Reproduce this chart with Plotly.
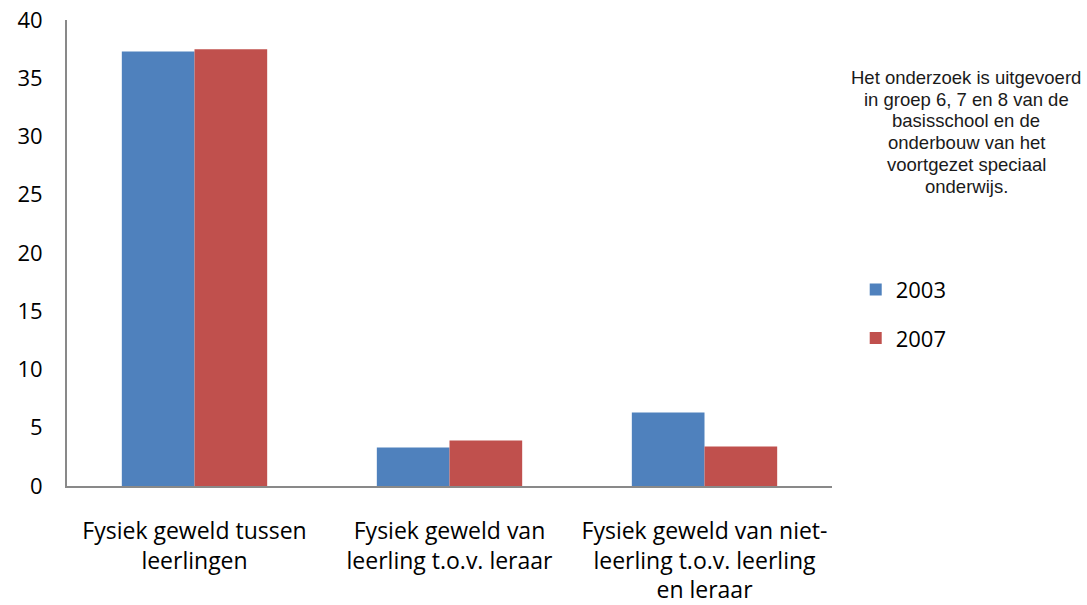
import plotly.graph_objects as go

categories = [
    "Fysiek geweld tussen<br>leerlingen",
    "Fysiek geweld van<br>leerling t.o.v. leraar",
    "Fysiek geweld van niet-<br>leerling t.o.v. leerling<br>en leraar",
]
series_names = ["2003", "2007"]
values_2003 = [37.3, 3.3, 6.3]
values_2007 = [37.5, 3.9, 3.4]
y_ticks = [0, 5, 10, 15, 20, 25, 30, 35, 40]
note_lines = [
    "Het onderzoek is uitgevoerd",
    "in groep 6, 7 en 8 van de",
    "basisschool en de",
    "onderbouw van het",
    "voortgezet speciaal",
    "onderwijs.",
]

colors = ["#4F81BD", "#C0504D"]

W, H = 1087, 605
L, T = 67, 19.5
PW, PH = 765, 467

fig = go.Figure()
for i, (name, vals) in enumerate(zip(series_names, [values_2003, values_2007])):
    fig.add_trace(go.Bar(
        x=categories, y=vals, name=name,
        marker=dict(color=colors[i], line=dict(width=0)),
        legendgroup=name,
    ))

annotations = []
for k, line in enumerate(note_lines):
    y_px = 76.7 + 22 * k  # centre of line in figure pixels
    annotations.append(dict(
        text=line, xref="paper", yref="paper",
        x=(966 - L) / PW, y=1 - (y_px - T) / PH,
        xanchor="center", yanchor="middle",
        showarrow=False, align="center",
        font=dict(family="Liberation Sans", size=18.5, color="#1a1a1a"),
    ))

fig.update_layout(
    width=W, height=H,
    margin=dict(l=L, r=W - L - PW, t=T, b=H - T - PH, autoexpand=False),
    paper_bgcolor="white", plot_bgcolor="white",
    barmode="group", bargap=0.43, bargroupgap=0,
    font=dict(family="Open Sans", size=22, color="black"),
    showlegend=True,
    legend=dict(
        x=1.031, y=0.4665, xanchor="left", yanchor="top",
        font=dict(family="Open Sans", size=22, color="black"),
        traceorder="grouped", tracegroupgap=17, itemwidth=30,
        bgcolor="rgba(0,0,0,0)",
    ),
    annotations=annotations,
)
fig.update_xaxes(
    showline=True, linecolor="#898989", linewidth=2,
    showgrid=False, ticks="", ticklabelstandoff=23,
    tickfont=dict(family="Open Sans", size=23),
)
fig.update_yaxes(
    range=[0, 40], tickvals=y_ticks, showline=True, linecolor="#898989", linewidth=2,
    showgrid=False, zeroline=False, ticks="", ticklabelstandoff=18,
    ticklabeloverflow="allow",
    tickfont=dict(family="Open Sans", size=22),
)

fig.write_html(
    "out.html",
    config={"displayModeBar": False},
    post_script="document.body.style.margin='0';document.body.style.overflow='hidden';",
)
